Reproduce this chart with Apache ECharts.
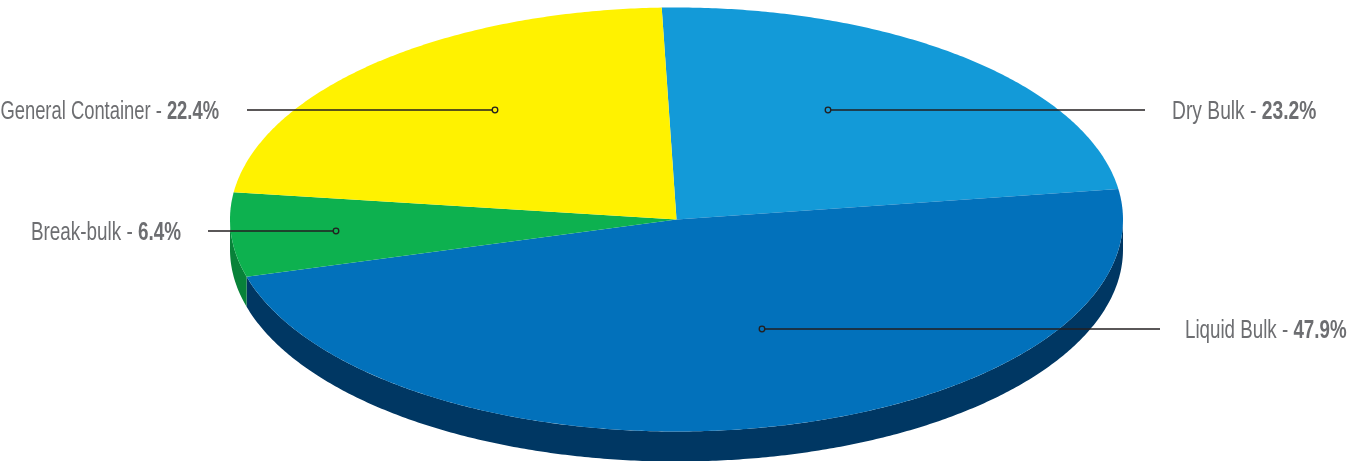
<!DOCTYPE html>
<html><head><meta charset="utf-8">
<style>html,body{margin:0;padding:0;background:#fff}#c{width:1350px;height:461px}</style>
<script src="https://cdn.jsdelivr.net/npm/echarts@6/dist/echarts.min.js"></script>
</head><body><div id="c"></div>
<script>
const categories = ['Dry Bulk', 'Liquid Bulk', 'Break-bulk', 'General Container'];
const values = [23.2, 47.9, 6.4, 22.4];
const topColors = ['#139ad8', '#0271bb', '#0db14f', '#fff200'];
const wallColors = ['#0b6a99', '#003763', '#088239', '#b3a900'];
// leader anchor (px), line end (px) and gap from line end to label
const anchors = [[828, 110, 1145, 27], [762, 329, 1160, 25], [336, 231, 208, 27], [495, 110, 247, 28]];
const textScales = [0.77, 0.75, 0.755, 0.735];
const pie = {cx: 676.5, cy: 219.5, rx: 446.5, ry: 212, depth: 30, start: 91.9};
const fontSize = 25;

const total = values.reduce((a, b) => a + b, 0);
function pt(deg, dy) {
  const r = deg * Math.PI / 180;
  return [pie.cx + pie.rx * Math.cos(r), pie.cy - pie.ry * Math.sin(r) + (dy || 0)];
}
function arc(from, to, dy) {
  const out = [], n = Math.max(2, Math.ceil(Math.abs(to - from) * 2));
  for (let i = 0; i <= n; i++) out.push(pt(from + (to - from) * i / n, dy));
  return out;
}
function renderItem(params, api) {
  const i = params.dataIndex, v = api.value(0);
  let before = 0;
  for (let k = 0; k < i; k++) before += values[k];
  const a0 = pie.start - before / total * 360, a1 = a0 - v / total * 360;
  const children = [];
  // visible wall: portion of the slice on the lower half of the ellipse (180..360 deg)
  const lo = Math.max(a1, -180), hi = Math.min(a0, 0);
  if (hi > lo) {
    const edge = arc(hi, lo, 0), low = arc(lo, hi, pie.depth);
    children.push({type: 'polygon', z2: 1, shape: {points: edge.concat(low)}, style: {fill: wallColors[i]}});
  }
  children.push({type: 'polygon', z2: 2,
    shape: {points: [[pie.cx, pie.cy]].concat(arc(a0, a1, 0))},
    style: {fill: topColors[i]}});
  const [ax, ay, ex, gap] = anchors[i];
  children.push({type: 'line', z2: 3, shape: {x1: ax, y1: ay, x2: ex, y2: ay},
    style: {stroke: '#231f20', lineWidth: 1.5}});
  children.push({type: 'circle', z2: 4, shape: {cx: ax, cy: ay, r: 2.8},
    style: {fill: topColors[i], stroke: '#231f20', lineWidth: 1.3}});
  const right = ex > ax;
  children.push({type: 'text', z2: 5,
    x: right ? ex + gap : ex - gap, y: ay + 2,
    scaleX: textScales[i],
    style: {
      text: '{a|' + categories[i] + ' - }{b|' + v.toFixed(1) + '%}',
      align: right ? 'left' : 'right', verticalAlign: 'middle',
      rich: {
        a: {fontFamily: '"Liberation Sans Narrow","Liberation Sans"', fontSize, fill: '#6d6e71', color: '#6d6e71'},
        b: {fontFamily: '"Liberation Sans Narrow","Liberation Sans"', fontSize, fontWeight: 'bold', fill: '#6d6e71', color: '#6d6e71'}
      }
    }});
  return {type: 'group', children};
}
const chart = echarts.init(document.getElementById('c'), null, {renderer: 'canvas'});
chart.setOption({
  animation: false,
  backgroundColor: '#ffffff',
  series: [{
    type: 'custom', coordinateSystem: 'none', silent: true,
    renderItem,
    data: values.map((v, i) => ({name: categories[i], value: [v]}))
  }]
});
</script></body></html>
